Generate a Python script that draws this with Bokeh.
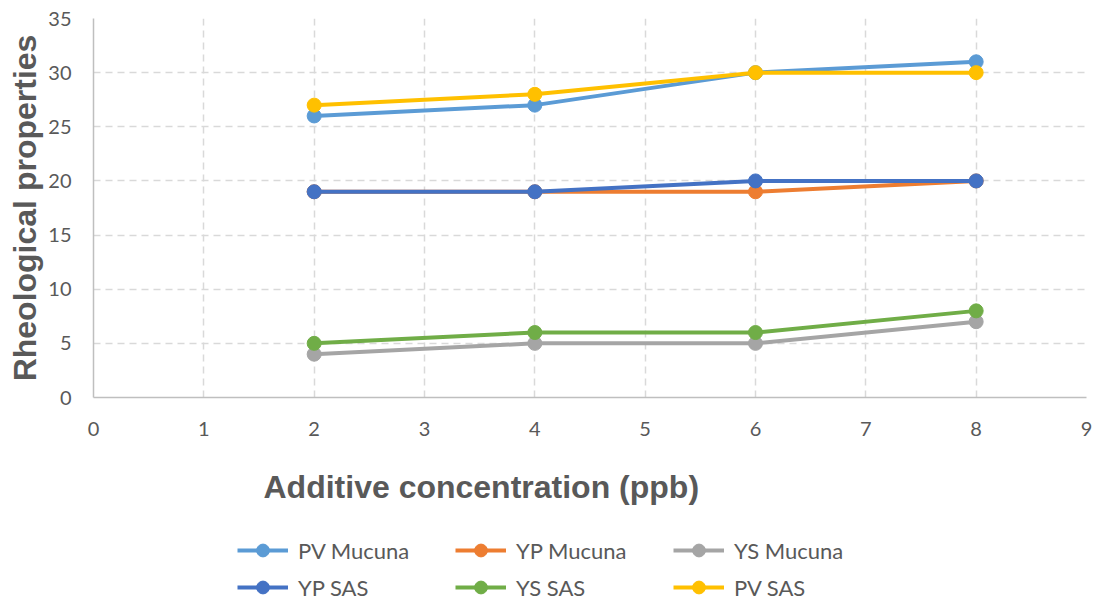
from bokeh.plotting import figure
from bokeh.models import Legend, LegendItem, Title, FixedTicker
from bokeh.layouts import column
from bokeh.embed import file_html
from bokeh.resources import INLINE

# Additive concentration (ppb)
conc = [2, 4, 6, 8]

pv_mucuna = [26, 27, 30, 31]
yp_mucuna = [19, 19, 19, 20]
ys_mucuna = [4, 5, 5, 7]
yp_sas = [19, 19, 20, 20]
ys_sas = [5, 6, 6, 8]
pv_sas = [27, 28, 30, 30]

series_names = ["PV Mucuna", "YP Mucuna", "YS Mucuna", "YP SAS", "YS SAS", "PV SAS"]
series_values = [pv_mucuna, yp_mucuna, ys_mucuna, yp_sas, ys_sas, pv_sas]
series_colors = ["#5B9BD5", "#ED7D31", "#A5A5A5", "#4472C4", "#70AD47", "#FFC000"]

x_ticks = list(range(0, 10))
y_ticks = list(range(0, 36, 5))

TEXT = "#595959"
TICK_FONT = "Lato"
TITLE_FONT = "Liberation Sans"

p = figure(
    frame_width=993, frame_height=379,
    x_range=(0, 9), y_range=(0, 35),
    output_backend="svg", toolbar_location=None,
    min_border_left=93, min_border_right=13,
    min_border_top=18, min_border_bottom=10,
)
p.outline_line_color = None
p.background_fill_color = "white"
p.border_fill_color = "white"

for name, vals, col in zip(series_names, series_values, series_colors):
    p.line(conc, vals, line_color=col, line_width=4)
    p.scatter(conc, vals, size=14, fill_color=col, line_color=col)

# axes
p.xaxis.ticker = FixedTicker(ticks=x_ticks)
p.yaxis.ticker = FixedTicker(ticks=y_ticks)
for ax in (p.xaxis, p.yaxis):
    ax.axis_line_color = "#BFBFBF"
    ax.axis_line_width = 1.5
    ax.major_tick_line_color = None
    ax.minor_tick_line_color = None
    ax.major_label_text_color = TEXT
    ax.major_label_text_font = TICK_FONT
    ax.major_label_text_font_size = "20px"
p.xaxis.major_label_standoff = 18
p.yaxis.major_label_standoff = 16

p.yaxis.axis_label = "Rheological properties"
p.yaxis.axis_label_text_font = TITLE_FONT
p.yaxis.axis_label_text_font_style = "bold"
p.yaxis.axis_label_text_font_size = "32px"
p.yaxis.axis_label_text_color = TEXT
p.yaxis.axis_label_standoff = 2

# grid
for g in (p.xgrid, p.ygrid):
    g.grid_line_color = "#D9D9D9"
    g.grid_line_width = 1.5
    g.grid_line_dash = "7 5"

# x-axis title
xt = Title(text="Additive concentration (ppb)", align="left", offset=170,
           text_font=TITLE_FONT, text_font_style="bold",
           text_font_size="32px", text_color=TEXT, standoff=56)
p.add_layout(xt, "below")

# legend strip under the chart; its renderers sit outside the visible range
lg = figure(
    width=1099, height=72, x_range=(100, 101), y_range=(100, 101),
    output_backend="svg", toolbar_location=None,
    min_border=0,
)
lg.axis.visible = False
lg.grid.visible = False
lg.outline_line_color = None

entries = {}
for name, vals, col in zip(series_names, series_values, series_colors):
    ln = lg.line(conc, vals, line_color=col, line_width=4)
    sc = lg.scatter(conc, vals, size=14, fill_color=col, line_color=col)
    entries[name] = LegendItem(label=name, renderers=[ln, sc])

# legend fills column by column: order so rows read across
order = ["PV Mucuna", "YP SAS", "YP Mucuna", "YS SAS", "YS Mucuna", "PV SAS"]

legend = Legend(
    items=[entries[n] for n in order], ncols=3,
    label_text_font=TICK_FONT, label_text_font_size="22px",
    label_text_color=TEXT,
    glyph_width=51, glyph_height=32, label_height=32,
    label_width=152, label_standoff=10, spacing=5,
    border_line_color=None, background_fill_alpha=0,
    padding=0, margin=0,
    location=(144, 1),
)
lg.add_layout(legend, "center")

layout = column(p, lg, spacing=0)
open("out.html", "w").write(file_html(layout, INLINE))
